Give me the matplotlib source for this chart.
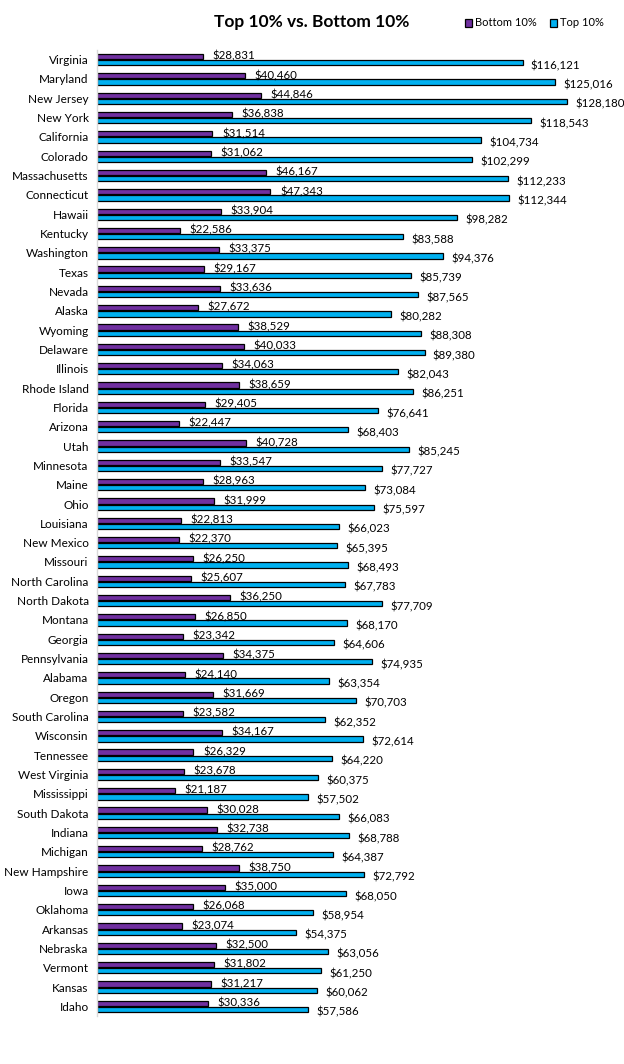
import numpy as np
import matplotlib
matplotlib.use("Agg")
import matplotlib.pyplot as plt

states = ["Virginia", "Maryland", "New Jersey", "New York", "California", "Colorado",
          "Massachusetts", "Connecticut", "Hawaii", "Kentucky", "Washington", "Texas",
          "Nevada", "Alaska", "Wyoming", "Delaware", "Illinois", "Rhode Island", "Florida",
          "Arizona", "Utah", "Minnesota", "Maine", "Ohio", "Louisiana", "New Mexico",
          "Missouri", "North Carolina", "North Dakota", "Montana", "Georgia", "Pennsylvania",
          "Alabama", "Oregon", "South Carolina", "Wisconsin", "Tennessee", "West Virginia",
          "Mississippi", "South Dakota", "Indiana", "Michigan", "New Hampshire", "Iowa",
          "Oklahoma", "Arkansas", "Nebraska", "Vermont", "Kansas", "Idaho"]

bottom_10 = [28831, 40460, 44846, 36838, 31514, 31062, 46167, 47343, 33904, 22586,
             33375, 29167, 33636, 27672, 38529, 40033, 34063, 38659, 29405, 22447,
             40728, 33547, 28963, 31999, 22813, 22370, 26250, 25607, 36250, 26850,
             23342, 34375, 24140, 31669, 23582, 34167, 26329, 23678, 21187, 30028,
             32738, 28762, 38750, 35000, 26068, 23074, 32500, 31802, 31217, 30336]

top_10 = [116121, 125016, 128180, 118543, 104734, 102299, 112233, 112344, 98282, 83588,
          94376, 85739, 87565, 80282, 88308, 89380, 82043, 86251, 76641, 68403,
          85245, 77727, 73084, 75597, 66023, 65395, 68493, 67783, 77709, 68170,
          64606, 74935, 63354, 70703, 62352, 72614, 64220, 60375, 57502, 66083,
          68788, 64387, 72792, 68050, 58954, 54375, 63056, 61250, 60062, 57586]

plt.rcParams['font.family'] = ['Lato', 'DejaVu Sans']

purple = "#7030A0"
cyan = "#00B0F0"

fig = plt.figure(figsize=(6.24, 10.64), dpi=100)
ax = fig.add_axes([97 / 624, 1 - 1016 / 1064, (610 - 97) / 624, (1016 - 50) / 1064])

y = np.arange(len(states))
h = 0.27
off = 0.16
b1 = ax.barh(y - off, bottom_10, height=h, color=purple, edgecolor="black", linewidth=0.9,
             label="Bottom 10%")
b2 = ax.barh(y + off, top_10, height=h, color=cyan, edgecolor="black", linewidth=0.9,
             label="Top 10%")

for rect, v in zip(b1, bottom_10):
    ax.text(v + 2600, rect.get_y() + rect.get_height() / 2 - 0.02, f"${v:,}",
            va="center", ha="left", fontsize=8.3)
for rect, v in zip(b2, top_10):
    ax.text(v + 2300, rect.get_y() + rect.get_height() / 2 + 0.15, f"${v:,}",
            va="center", ha="left", fontsize=8.3)

ax.set_xlim(0, 140000)
ax.set_ylim(len(states) - 0.5, -0.5)
ax.set_yticks(y)
ax.set_yticklabels(states, fontsize=8.5)
ax.tick_params(axis="y", length=0, pad=6)
ax.set_xticks([])
for s in ["top", "right", "bottom"]:
    ax.spines[s].set_visible(False)
ax.spines["left"].set_color("#d9d9d9")
ax.spines["left"].set_linewidth(1)

fig.text(312 / 624, 1 - 22 / 1064, "Top 10% vs. Bottom 10%", ha="center", va="center",
         fontsize=12.5, fontweight="bold")

fig.legend(handles=[b1, b2], loc="center", bbox_to_anchor=(534 / 624, 1 - 23 / 1064),
           ncol=2, frameon=False, fontsize=8, handlelength=0.7, handleheight=0.7,
           handletextpad=0.2, columnspacing=1.2)

fig.savefig("out.png", dpi=100)
